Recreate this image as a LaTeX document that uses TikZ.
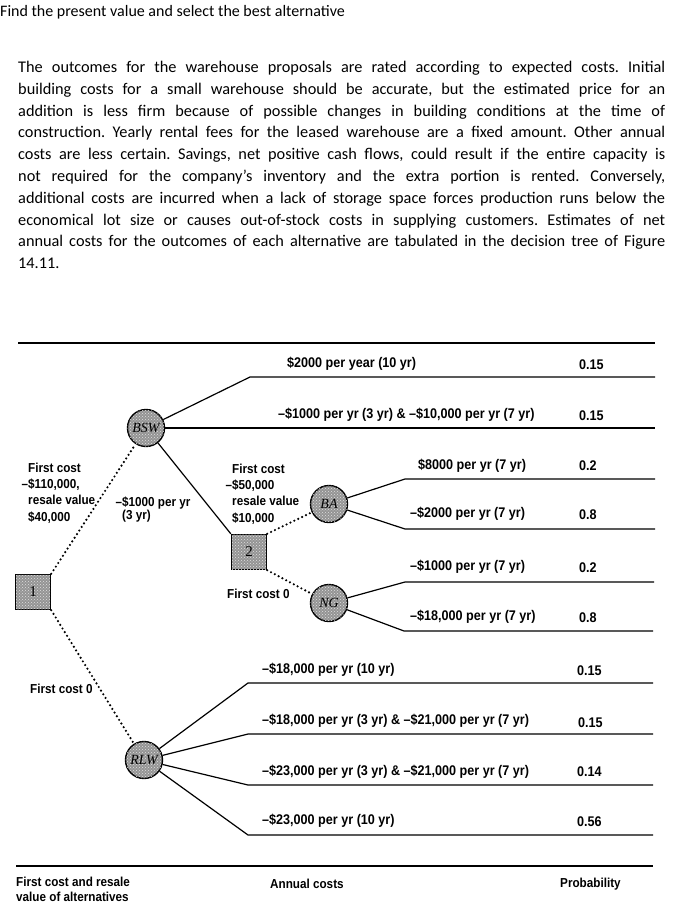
\documentclass[tikz,border=0pt]{standalone}
\usepackage{fontspec}
\setmainfont{Carlito}
\newfontfamily\dfont[FakeStretch=0.9]{Liberation Sans}
\newfontfamily\nfont{Liberation Serif}
\usetikzlibrary{patterns}
\tikzset{
  lbl/.style={font=\dfont\bfseries\fontsize{14}{16}\selectfont, anchor=west, inner sep=0pt},
  capt/.style={font=\dfont\bfseries\fontsize{13}{16.3}\selectfont, anchor=north west, align=left, inner sep=0pt},
  chance/.style={circle, draw, line width=1.4pt, fill=black!42, minimum size=37pt, inner sep=0pt,
    postaction={pattern=crosshatch dots, pattern color=black!12},
    font=\nfont\itshape\fontsize{14}{14}\selectfont},
  decis/.style={rectangle, draw, line width=1.4pt, fill=black!42, minimum size=35pt, inner sep=0pt,
    postaction={pattern=crosshatch dots, pattern color=black!12},
    font=\nfont\fontsize{15}{15}\selectfont},
  branch/.style={line width=1.2pt},
  dotline/.style={line width=2.4pt, dash pattern=on 0pt off 4.3pt, line cap=round},
  rulel/.style={line width=1.6pt}
}
\begin{document}
\begin{tikzpicture}[x=1pt,y=-1pt]
\useasboundingbox (0,0) rectangle (681,907);
% title and paragraph
\node[anchor=base west, inner sep=0pt, font=\fontsize{16}{18}\selectfont] (title) at (0,17) {Find the present value and select the best alternative};
\node[anchor=north west, inner sep=0pt, text width=647pt, align=justify,
      font=\fontsize{16.3}{21.8}\selectfont\frenchspacing] (para) at (18,61) {%
The outcomes for the warehouse proposals are rated according to expected costs. Initial\linebreak
building costs for a small warehouse should be accurate, but the estimated price for an\linebreak
addition is less firm because of possible changes in building conditions at the time of\linebreak
construction. Yearly rental fees for the leased warehouse are a fixed amount. Other annual\linebreak
costs are less certain. Savings, net positive cash flows, could result if the entire capacity is\linebreak
not required for the company’s inventory and the extra portion is rented. Conversely,\linebreak
additional costs are incurred when a lack of storage space forces production runs below the\linebreak
economical lot size or causes out-of-stock costs in supplying customers. Estimates of net\linebreak
annual costs for the outcomes of each alternative are tabulated in the decision tree of Figure\linebreak
14.11.};
% rules
\coordinate (rt1) at (18,343); \coordinate (rt2) at (655,343);
\coordinate (rb1) at (16,866); \coordinate (rb2) at (653,866);
\draw[rulel] (rt1) -- (rt2);
\draw[rulel] (rb1) -- (rb2);
% nodes
\node[decis] (n1) at (33,592) {1};
\node[chance] (BSW) at (146,428) {BSW};
\node[decis] (n2) at (249,552) {2};
\node[chance] (BA) at (329,504) {BA};
\node[chance] (NG) at (329,603) {NG};
\node[chance] (RLW) at (144,760) {RLW};
% coordinates of branches
\coordinate (b1) at (250,377); \coordinate (e1) at (655,377);
\coordinate (e2) at (655,428);
\coordinate (b3) at (405,479); \coordinate (e3) at (655,479);
\coordinate (b4) at (405,529); \coordinate (e4) at (655,529);
\coordinate (b5) at (405,582); \coordinate (e5) at (654,582);
\coordinate (b6) at (404,631); \coordinate (e6) at (653,631);
\coordinate (b7) at (248,683); \coordinate (e7) at (653,683);
\coordinate (b8) at (248,734); \coordinate (e8) at (653,734);
\coordinate (b9) at (248,785); \coordinate (e9) at (653,785);
\coordinate (b10) at (248,835); \coordinate (e10) at (653,835);
% dotted connectors
\draw[dotline] (n1.north east) -- (BSW);
\draw[dotline] (n1.south east) -- (RLW);
\draw[dotline] (n2.north east) -- (BA);
\draw[dotline] (n2.south east) -- (NG);
% solid branches
\draw[branch] (BSW) -- (b1) -- (e1);
\draw[branch] (BSW.east) -- (e2);
\draw[branch] (BSW) -- (n2.north west);
\draw[branch] (BA) -- (b3) -- (e3);
\draw[branch] (BA) -- (b4) -- (e4);
\draw[branch] (NG) -- (b5) -- (e5);
\draw[branch] (NG) -- (b6) -- (e6);
\draw[branch] (RLW) -- (b7) -- (e7);
\draw[branch] (RLW) -- (b8) -- (e8);
\draw[branch] (RLW) -- (b9) -- (e9);
\draw[branch] (RLW) -- (b10) -- (e10);
% branch labels
\node[lbl] (t1) at (287,364) {\$2000 per year (10 yr)};
\node[lbl] (t2) at (278,415) {–\$1000 per yr (3 yr) \& –\$10,000 per yr (7 yr)};
\node[lbl] (t3) at (418,466) {\$8000 per yr (7 yr)};
\node[lbl] (t4) at (410,514) {–\$2000 per yr (7 yr)};
\node[lbl] (t5) at (410,567) {–\$1000 per yr (7 yr)};
\node[lbl] (t6) at (410,617) {–\$18,000 per yr (7 yr)};
\node[lbl] (t7) at (262,670) {–\$18,000 per yr (10 yr)};
\node[lbl] (t8) at (262,721) {–\$18,000 per yr (3 yr) \& –\$21,000 per yr (7 yr)};
\node[lbl] (t9) at (262,772) {–\$23,000 per yr (3 yr) \& –\$21,000 per yr (7 yr)};
\node[lbl] (t10) at (262,821) {–\$23,000 per yr (10 yr)};
% probabilities
\node[lbl] (p1) at (579,365) {0.15};
\node[lbl] (p2) at (579,416) {0.15};
\node[lbl] (p3) at (579,466) {0.2};
\node[lbl] (p4) at (579,515) {0.8};
\node[lbl] (p5) at (579,568) {0.2};
\node[lbl] (p6) at (579,618) {0.8};
\node[lbl] (p7) at (577,671) {0.15};
\node[lbl] (p8) at (578,723) {0.15};
\node[lbl] (p9) at (577,772) {0.14};
\node[lbl] (p10) at (577,822) {0.56};
% first-cost labels
\node[capt] (c1) at (28,462.5) {First cost\\\llap{–}\$110,000,\\resale value\\\$40,000};
\node[capt] (c2) at (122,496.5) {\llap{–}\$1000 per yr\\[-3pt](3 yr)};
\node[capt] (c3) at (232,463.5) {First cost\\\llap{–}\$50,000\\resale value\\\$10,000};
\node[capt, anchor=west] (c4) at (227,594) {First cost 0};
\node[capt, anchor=west] (c5) at (30,689) {First cost 0};
% bottom captions
\node[capt, font=\dfont\bfseries\fontsize{13}{15}\selectfont] (f1) at (16,877) {First cost and resale\\value of alternatives};
\node[capt, anchor=west] (f2) at (270,884) {Annual costs};
\node[capt, anchor=west] (f3) at (560,884) {Probability};
\end{tikzpicture}
\end{document}
